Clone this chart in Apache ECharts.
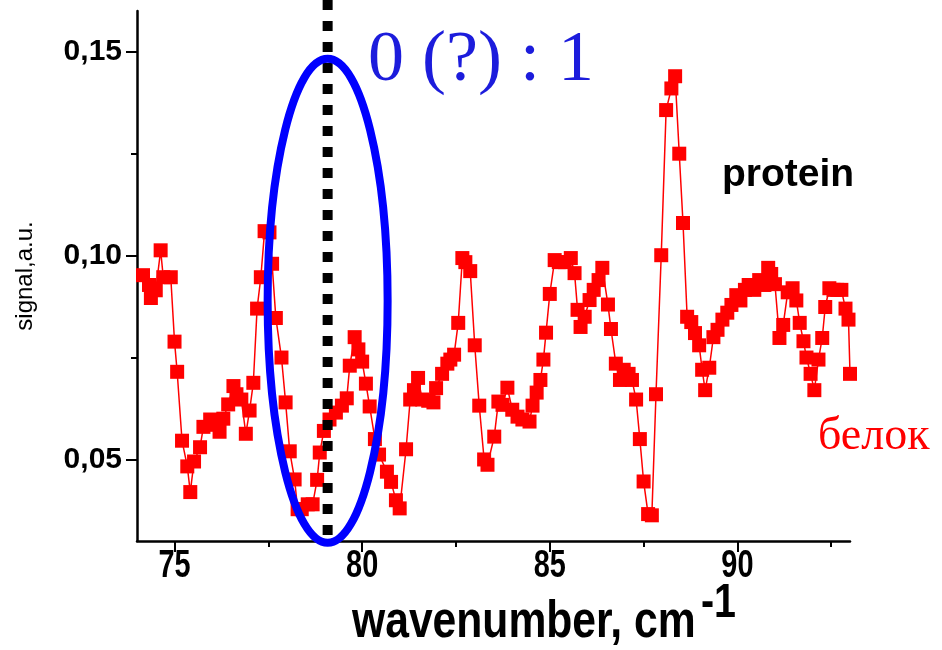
<!DOCTYPE html>
<html>
<head>
<meta charset="utf-8">
<script src="https://cdn.jsdelivr.net/npm/echarts@6/dist/echarts.min.js"></script>
<style>
  html, body { margin: 0; padding: 0; background: #fff; }
  #chart { width: 942px; height: 650px; }
</style>
</head>
<body>
<div id="chart"></div>
<script>
// data
const wavenumber = [
  74.16, 74.32, 74.37, 74.50, 74.63, 74.70, 74.90, 75.00, 75.07, 75.20,
  75.34, 75.42, 75.52, 75.68, 75.77, 75.95, 76.10, 76.20, 76.30, 76.43,
  76.57, 76.65, 76.78, 76.90, 77.00, 77.10, 77.20, 77.30, 77.40, 77.53,
  77.60, 77.70, 77.85, 77.96, 78.07, 78.20, 78.28, 78.39, 78.55, 78.68,
  78.80, 78.87, 78.98, 79.13, 79.30, 79.46, 79.59, 79.67, 79.80, 79.90,
  80.00, 80.10, 80.20, 80.34, 80.45, 80.66, 80.77, 80.90, 81.00, 81.17,
  81.28, 81.38, 81.49, 81.60, 81.76, 81.90, 81.97, 82.13, 82.27, 82.35,
  82.45, 82.56, 82.67, 82.75, 82.88, 83.00, 83.12, 83.25, 83.34, 83.52,
  83.63, 83.74, 83.87, 84.00, 84.14, 84.27, 84.46, 84.54, 84.65, 84.75,
  84.83, 84.90, 85.00, 85.13, 85.24, 85.40, 85.56, 85.66, 85.74, 85.82,
  85.93, 86.06, 86.17, 86.30, 86.40, 86.55, 86.63, 86.76, 86.87, 86.97,
  87.10, 87.19, 87.30, 87.40, 87.50, 87.62, 87.72, 87.83, 87.97, 88.10,
  88.24, 88.34, 88.45, 88.55, 88.66, 88.77, 88.87, 88.98, 89.06, 89.14,
  89.25, 89.36, 89.47, 89.60, 89.73, 89.84, 89.97, 90.08, 90.20, 90.30,
  90.45, 90.58, 90.72, 90.82, 90.90, 91.00, 91.12, 91.22, 91.34, 91.47,
  91.57, 91.66, 91.76, 91.84, 91.95, 92.05, 92.16, 92.26, 92.34, 92.45,
  92.56, 92.66, 92.77, 92.88, 92.96, 93.00
];
const signal = [
  0.0952, 0.0928, 0.0896, 0.0915, 0.1013, 0.0947, 0.0947, 0.0789, 0.0715, 0.0546,
  0.0483, 0.0420, 0.0495, 0.0530, 0.0580, 0.0598, 0.0585, 0.0568, 0.0600, 0.0635,
  0.0680, 0.0660, 0.0647, 0.0563, 0.0620, 0.0688, 0.0870, 0.0947, 0.1060, 0.1057,
  0.0980, 0.0847, 0.0750, 0.0640, 0.0520, 0.0451, 0.0378, 0.0378, 0.0390, 0.0390,
  0.0450, 0.0517, 0.0570, 0.0598, 0.0615, 0.0632, 0.0650, 0.0730, 0.0800, 0.0770,
  0.0740, 0.0686, 0.0630, 0.0550, 0.0512, 0.0470, 0.0445, 0.0400, 0.0380, 0.0525,
  0.0647, 0.0670, 0.0700, 0.0647, 0.0644, 0.0640, 0.0675, 0.0710, 0.0735, 0.0745,
  0.0757, 0.0835, 0.0994, 0.0984, 0.0962, 0.0780, 0.0632, 0.0500, 0.0487, 0.0556,
  0.0642, 0.0634, 0.0676, 0.0622, 0.0605, 0.0598, 0.0593, 0.0632, 0.0664, 0.0695,
  0.0745, 0.0811, 0.0906, 0.0989, 0.0984, 0.0984, 0.0994, 0.0957, 0.0867, 0.0825,
  0.0850, 0.0891, 0.0916, 0.0940, 0.0970, 0.0880, 0.0820, 0.0735, 0.0695, 0.0720,
  0.0710, 0.0695, 0.0647, 0.0550, 0.0446, 0.0366, 0.0363, 0.0660, 0.1001, 0.1357,
  0.1410, 0.1440, 0.1250, 0.1080, 0.0850, 0.0837, 0.0810, 0.0780, 0.0720, 0.0670,
  0.0725, 0.0800, 0.0818, 0.0843, 0.0860, 0.0879, 0.0903, 0.0890, 0.0916, 0.0928,
  0.0916, 0.0940, 0.0928, 0.0970, 0.0955, 0.0930, 0.0798, 0.0830, 0.0910, 0.0920,
  0.0890, 0.0835, 0.0790, 0.0750, 0.0710, 0.0670, 0.0745, 0.0798, 0.0874, 0.0920,
  0.0916, 0.0916, 0.0916, 0.0870, 0.0843, 0.0710
];
const xMajor = [75, 80, 85, 90];
const xMinor = [77.5, 82.5, 87.5, 92.5];
const yMajor = [0.05, 0.10, 0.15];
const yMinor = [0.075, 0.125];
const markerX = 79.08;   // dotted line

const SANS = '"Liberation Sans", Arial, sans-serif';
const SERIF = '"Liberation Serif", "Times New Roman", serif';

const chart = echarts.init(document.getElementById('chart'));

const points = wavenumber.map((x, i) => [x, signal[i]]);

const axisLine = { show: true, lineStyle: { color: '#000', width: 2.5 } };

const option = {
    animation: false,
    grid: { left: 137, right: 92, top: 11, bottom: 109, outerBoundsMode: 'none' },
    xAxis: [
        {
            type: 'value',
            min: 74,
            max: 93,
            axisLine: axisLine,
            splitLine: { show: false },
            axisTick: { customValues: xMajor, length: 11, lineStyle: { color: '#000', width: 2 } },
            axisLabel: { show: false }
        },
        {
            type: 'value',
            min: 74,
            max: 93,
            position: 'bottom',
            axisLine: { show: false },
            splitLine: { show: false },
            axisLabel: { show: false },
            axisTick: { customValues: xMinor, length: 6, lineStyle: { color: '#000', width: 2 } }
        }
    ],
    yAxis: [
        {
            type: 'value',
            min: 0.03,
            max: 0.16,
            axisLine: axisLine,
            splitLine: { show: false },
            axisTick: { customValues: yMajor, length: 11, lineStyle: { color: '#000', width: 2 } },
            axisLabel: {
                customValues: yMajor,
                margin: 15,
                color: '#000',
                fontFamily: SANS,
                fontWeight: 'bold',
                fontSize: 30,
                formatter: v => v.toFixed(2).replace('.', ',')
            },
            name: 'signal,a.u.',
            nameLocation: 'middle',
            nameGap: 100,
            nameTextStyle: { fontFamily: SANS, fontSize: 24, color: '#000' }
        },
        {
            type: 'value',
            min: 0.03,
            max: 0.16,
            position: 'left',
            axisLine: { show: false },
            splitLine: { show: false },
            axisLabel: { show: false },
            axisTick: { customValues: yMinor, length: 6, lineStyle: { color: '#000', width: 2 } }
        }
    ],
    series: [
        {
            type: 'line',
            data: points,
            symbol: 'rect',
            symbolSize: 14,
            itemStyle: { color: '#ff0000' },
            lineStyle: { color: '#ff0000', width: 1.5 },
            z: 2
        }
    ]
};
chart.setOption(option);

// annotations and narrow x texts placed through the axes
const px = chart.convertToPixel({ xAxisIndex: 0 }, markerX);
const ellipseCenterY = chart.convertToPixel({ yAxisIndex: 0 }, 0.0889);

const xLabels = xMajor.map(v => ({
    type: 'text',
    x: chart.convertToPixel({ xAxisIndex: 0 }, v),
    y: 567,
    scaleX: 0.76,
    style: {
        text: String(v),
        fill: '#000',
        font: 'bold 38px ' + SANS,
        textAlign: 'center',
        textVerticalAlign: 'middle'
    }
}));

chart.setOption({
    graphic: xLabels.concat([
        {
            type: 'text',
            x: 352,
            y: 623,
            scaleX: 0.82,
            style: {
                text: 'wavenumber, cm',
                fill: '#000',
                font: 'bold 52px ' + SANS,
                textAlign: 'left',
                textVerticalAlign: 'middle'
            }
        },
        {
            type: 'text',
            x: 701,
            y: 604,
            scaleX: 0.82,
            style: {
                text: '-1',
                fill: '#000',
                font: 'bold 48px ' + SANS,
                textAlign: 'left',
                textVerticalAlign: 'middle'
            }
        },
        {
            type: 'line',
            z: 10,
            shape: { x1: px, y1: 0, x2: px, y2: 545 },
            style: { stroke: '#000', lineWidth: 10, lineDash: [10, 11] }
        },
        {
            type: 'ellipse',
            z: 11,
            shape: { cx: px, cy: ellipseCenterY, rx: 60, ry: 242 },
            style: { fill: null, stroke: '#0000ff', lineWidth: 8 }
        },
        {
            type: 'text',
            z: 12,
            x: 368,
            y: 61,
            style: {
                text: '0 (?) : 1',
                fill: '#1c1cdc',
                font: '72px ' + SERIF,
                textAlign: 'left',
                textVerticalAlign: 'middle'
            }
        },
        {
            type: 'text',
            z: 12,
            x: 722,
            y: 175,
            style: {
                text: 'protein',
                fill: '#000',
                font: 'bold 39px ' + SANS,
                textAlign: 'left',
                textVerticalAlign: 'middle'
            }
        },
        {
            type: 'text',
            z: 12,
            x: 818,
            y: 437,
            style: {
                text: 'белок',
                fill: '#ff0000',
                font: '46px ' + SERIF,
                textAlign: 'left',
                textVerticalAlign: 'middle'
            }
        }
    ])
});
</script>
</body>
</html>
